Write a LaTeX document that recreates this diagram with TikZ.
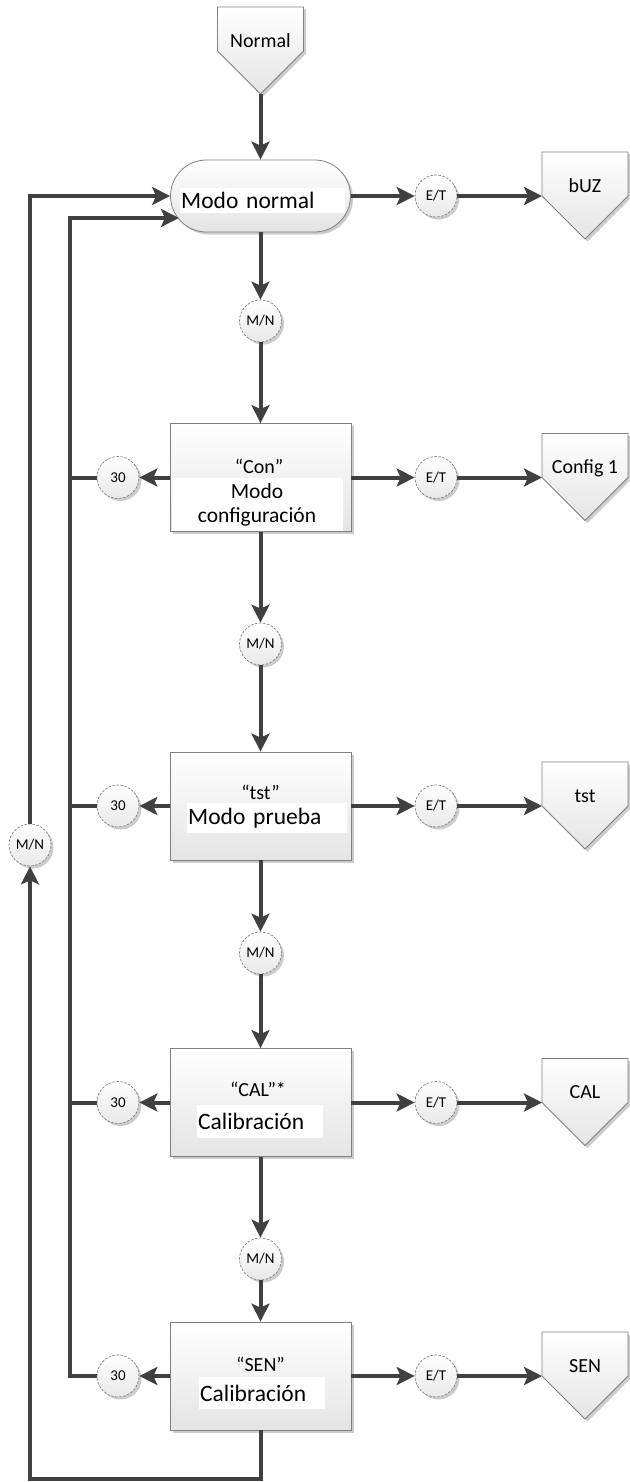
\documentclass[tikz,border=0pt]{standalone}
\usepackage{fontspec}
\setmainfont{Carlito}
\usetikzlibrary{arrows.meta,shadows}
\definecolor{linec}{HTML}{404040}
\definecolor{bordc}{HTML}{808080}
\definecolor{shadc}{HTML}{CCCCCC}
\definecolor{fillb}{HTML}{E4E4E4}
\definecolor{circf}{HTML}{E8E8E8}
\tikzset{
  conn/.style={draw=linec, line width=4pt},
  arr/.style={conn, -{Stealth[length=18pt,width=18pt,inset=4pt]}},
  shad/.style={drop shadow={shadow xshift=2.5pt, shadow yshift=-2.5pt, fill=shadc, opacity=1}},
  procbox/.style={rectangle, draw=bordc, line width=0.8pt, top color=white, bottom color=fillb, minimum width=181pt, minimum height=108pt, inner sep=0pt, shad},
  termbox/.style={rectangle, rounded corners=36pt, draw=bordc, line width=0.8pt, top color=white, bottom color=fillb, minimum width=180pt, minimum height=72pt, inner sep=0pt, shad},
  pentshape/.style={draw=bordc, line width=0.8pt, top color=white, bottom color=fillb, shad},
  pglabel/.style={font=\fontsize{20}{20}\selectfont, inner sep=0pt, text height=12.9pt, text depth=0pt},
  qlabel/.style={font=\fontsize{20}{20}\selectfont, inner sep=0pt, text height=12.9pt, text depth=0pt},
  circnode/.style={circle, draw=bordc, line width=0.7pt, dash pattern=on 2.5pt off 1.5pt, top color=white, bottom color=circf, minimum size=42pt, inner sep=0pt, font=\fontsize{15}{15}\selectfont, shad},
  wlabel/.style={fill=white, inner sep=0pt, font=\fontsize{23.5}{24}\selectfont},
}
\newcommand\offpage[4]{%
  \path[pentshape] (#2-43,#3) -- (#2+43,#3) -- (#2+43,#3+44) -- (#2,#3+87) -- (#2-43,#3+44) -- cycle;
  \node[pglabel] (#1) at (#2,#3+34) {#4};
  \coordinate (#1-in) at (#2-43,#3+44);
  \coordinate (#1-pt) at (#2,#3+87);
}
\begin{document}
\begin{tikzpicture}[x=1pt,y=-1pt]
\useasboundingbox (0,0) rectangle (629,1482);

% off-page connectors
\offpage{nrm}{260.5}{7}{Normal}
\offpage{buz}{585}{152}{bUZ}
\offpage{cfg}{585}{433.5}{Config 1}
\offpage{tstp}{585}{762}{tst}
\offpage{calp}{585}{1058.5}{CAL}
\offpage{senp}{585}{1332}{SEN}

% terminator
\node[termbox] (nm) at (260.5,196) {};
\node[wlabel, anchor=west, minimum height=25pt, text width=163pt, align=left, inner xsep=1pt] (nmt) at (180,200.5) {Modo normal};

% process boxes
\node[procbox] (con) at (260.5,477.5) {};
\node[qlabel] (conq) at (259,467) {“Con”};
\node[wlabel, font=\fontsize{21.5}{24}\selectfont, minimum width=171pt, minimum height=53pt, align=center] (cont) at (257,504.5) {Modo\\configuración};

\node[procbox] (tst) at (260.5,806) {};
\node[qlabel] (tstq) at (260.5,793) {“tst”};
\node[wlabel, anchor=west, minimum height=30pt, text width=158pt, align=left, inner xsep=1pt] (tstt) at (187,818) {Modo prueba};

\node[procbox] (cal) at (260.5,1102.5) {};
\node[qlabel] (calq) at (258,1090) {“CAL”*};
\node[wlabel, anchor=west, minimum height=33pt, text width=124pt, align=left, inner xsep=1pt] (calt) at (197,1121.5) {Calibración};

\node[procbox] (sen) at (260.5,1376) {};
\node[qlabel] (senq) at (260.5,1365) {“SEN”};
\node[wlabel, anchor=west, minimum height=32pt, text width=124pt, align=left, inner xsep=1pt] (sent) at (199,1393) {Calibración};

% circles
\node[circnode] (mn1) at (260.5,321) {M/N};
\node[circnode] (mn2) at (260.5,644) {M/N};
\node[circnode] (mn3) at (260.5,953) {M/N};
\node[circnode] (mn4) at (260.5,1259) {M/N};
\node[circnode] (mn5) at (30,845) {M/N};

\node[circnode] (et1) at (436,196) {E/T};
\node[circnode] (et2) at (436,477.5) {E/T};
\node[circnode] (et3) at (436,806) {E/T};
\node[circnode] (et4) at (436,1102.5) {E/T};
\node[circnode] (et5) at (436,1376) {E/T};

\node[circnode] (s30a) at (118,477.5) {30};
\node[circnode] (s30b) at (118,806) {30};
\node[circnode] (s30c) at (118,1102.5) {30};
\node[circnode] (s30d) at (118,1376) {30};

% helper coordinates
\coordinate (bl1) at (260.5,1479);
\coordinate (bl2) at (30,1479);
\coordinate (tl1) at (30,196);
\coordinate (il1) at (70,1376);
\coordinate (il2) at (70,218);
\coordinate (nmin2) at (179,218);

% main chain
\draw[arr] (nrm-pt) -- (nm);
\draw[arr] (nm) -- (mn1);
\draw[arr] (mn1) -- (con);
\draw[arr] (con) -- (mn2);
\draw[arr] (mn2) -- (tst);
\draw[arr] (tst) -- (mn3);
\draw[arr] (mn3) -- (cal);
\draw[arr] (cal) -- (mn4);
\draw[arr] (mn4) -- (sen);

% right branches
\draw[arr] (nm) -- (et1);  \draw[arr] (et1) -- (buz-in);
\draw[arr] (con) -- (et2); \draw[arr] (et2) -- (cfg-in);
\draw[arr] (tst) -- (et3); \draw[arr] (et3) -- (tstp-in);
\draw[arr] (cal) -- (et4); \draw[arr] (et4) -- (calp-in);
\draw[arr] (sen) -- (et5); \draw[arr] (et5) -- (senp-in);

% left branches
\draw[arr] (con) -- (s30a);
\draw[arr] (tst) -- (s30b);
\draw[arr] (cal) -- (s30c);
\draw[arr] (sen) -- (s30d);
\draw[conn] (s30a) -- (s30a -| il1);
\draw[conn] (s30b) -- (s30b -| il1);
\draw[conn] (s30c) -- (s30c -| il1);
\draw[arr] (s30d) -- (il1) -- (il2) -- (nmin2);

% outer loop
\draw[arr] (sen) -- (bl1) -- (bl2) -- (mn5);
\draw[arr] (mn5) -- (tl1) -- (nm);
\end{tikzpicture}
\end{document}
